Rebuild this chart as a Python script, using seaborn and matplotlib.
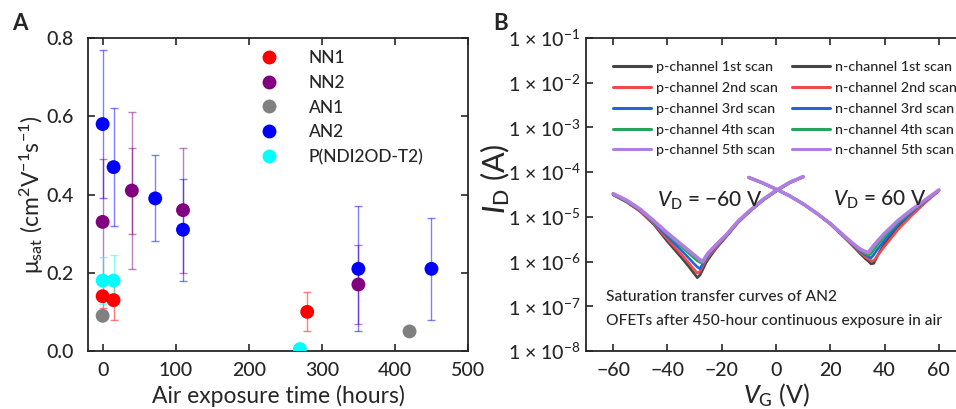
import numpy as np
import pandas as pd
import matplotlib
matplotlib.use("Agg")
import matplotlib.pyplot as plt
import seaborn as sns

# ---- panel A: mobility vs air exposure ----
materials = ["NN1", "NN2", "AN1", "AN2", "P(NDI2OD-T2)"]
mat_colors = ["#ff0000", "#800080", "#808080", "#0000ff", "#00ffff"]

nn1_t = [0, 15, 280]
nn1_mu = [0.14, 0.13, 0.10]
nn1_err = [0.03, 0.05, 0.05]

nn2_t = [0, 40, 110, 350]
nn2_mu = [0.33, 0.41, 0.36, 0.17]
nn2_err = [0.16, 0.20, 0.16, 0.10]
nn2_inner_t = [40]
nn2_inner_err = [0.11]

an1_t = [0, 420]
an1_mu = [0.09, 0.05]

an2_t = [0, 15, 72, 110, 350, 450]
an2_mu = [0.58, 0.47, 0.39, 0.31, 0.21, 0.21]
an2_err = [0.19, 0.15, 0.11, 0.13, 0.16, 0.13]

pndi_t = [0, 15, 270]
pndi_mu = [0.18, 0.18, 0.005]
pndi_err = [0.06, 0.065, 0.0]

# ---- panel B: transfer curves (log10 of I_D) ----
scan_names = ["1st", "2nd", "3rd", "4th", "5th"]
scan_colors = ["#454545", "#f24a4a", "#1f68dc", "#26a55a", "#b07ee0"]

vg_p = [-60, -55, -50, -45, -40, -35, -32, -30, -29, -28, -27, -26, -25, -22, -18, -14, -10, -5, 0, 5, 10]
logi_p = [
    [-4.51, -4.67, -4.88, -5.17, -5.55, -5.90, -6.12, -6.28, -6.36, -6.30, -6.18, -6.05, -5.95, -5.70, -5.42, -5.13, -4.90, -4.64, -4.43, -4.24, -4.11],
    [-4.50, -4.66, -4.87, -5.15, -5.50, -5.83, -6.04, -6.19, -6.26, -6.22, -6.10, -5.99, -5.90, -5.68, -5.41, -5.12, -4.89, -4.63, -4.42, -4.24, -4.11],
    [-4.49, -4.65, -4.85, -5.12, -5.44, -5.74, -5.93, -6.06, -6.12, -6.16, -6.05, -5.95, -5.86, -5.65, -5.40, -5.11, -4.89, -4.63, -4.42, -4.23, -4.10],
    [-4.49, -4.64, -4.84, -5.10, -5.39, -5.66, -5.82, -5.93, -5.98, -6.02, -6.03, -5.93, -5.83, -5.63, -5.39, -5.10, -4.88, -4.62, -4.41, -4.23, -4.10],
    [-4.48, -4.63, -4.83, -5.09, -5.36, -5.61, -5.76, -5.86, -5.91, -5.96, -6.00, -5.90, -5.81, -5.62, -5.38, -5.10, -4.88, -4.62, -4.41, -4.23, -4.10],
]

vg_n = [-10, -5, 0, 5, 10, 15, 20, 25, 28, 31, 33, 34, 35, 36, 37, 38, 40, 45, 50, 55, 60]
logi_n = [
    [-4.12, -4.24, -4.38, -4.53, -4.71, -4.92, -5.16, -5.45, -5.63, -5.82, -5.94, -5.99, -6.05, -6.04, -5.92, -5.80, -5.60, -5.22, -4.93, -4.66, -4.41],
    [-4.12, -4.24, -4.38, -4.53, -4.71, -4.92, -5.16, -5.44, -5.61, -5.79, -5.90, -5.94, -5.98, -5.98, -5.90, -5.82, -5.66, -5.28, -4.97, -4.68, -4.42],
    [-4.12, -4.24, -4.38, -4.53, -4.71, -4.92, -5.15, -5.43, -5.60, -5.76, -5.85, -5.89, -5.92, -5.85, -5.76, -5.68, -5.52, -5.17, -4.90, -4.64, -4.41],
    [-4.12, -4.24, -4.38, -4.53, -4.71, -4.92, -5.15, -5.42, -5.59, -5.74, -5.82, -5.86, -5.83, -5.74, -5.66, -5.58, -5.44, -5.12, -4.87, -4.63, -4.40],
    [-4.12, -4.24, -4.38, -4.53, -4.71, -4.92, -5.15, -5.42, -5.58, -5.72, -5.78, -5.80, -5.72, -5.64, -5.57, -5.50, -5.37, -5.08, -4.84, -4.62, -4.40],
]

ytick_exp = [-8, -7, -6, -5, -4, -3, -2, -1]

sns.set_style("ticks")
plt.rcParams["font.family"] = ["Lato", "DejaVu Sans"]
plt.rcParams["font.weight"] = "medium"
plt.rcParams["mathtext.fontset"] = "custom"
plt.rcParams["mathtext.rm"] = "Lato:medium"
plt.rcParams["mathtext.it"] = "Lato:italic:medium"
plt.rcParams["axes.unicode_minus"] = True

fig = plt.figure(figsize=(9.56, 4.09), dpi=100)
axa = fig.add_axes([88 / 956, 58 / 409, 380 / 956, 313 / 409])
axb = fig.add_axes([586 / 956, 58 / 409, 380 / 956, 313 / 409])

# errorbars first
bars = [
    (nn1_t, nn1_mu, nn1_err, mat_colors[0]),
    (nn2_t, nn2_mu, nn2_err, mat_colors[1]),
    (nn2_inner_t, [nn2_mu[1]], nn2_inner_err, mat_colors[1]),
    (an2_t, an2_mu, an2_err, mat_colors[3]),
    (pndi_t, pndi_mu, pndi_err, mat_colors[4]),
]
for t, mu, err, c in bars:
    axa.errorbar(t, mu, yerr=err, fmt="none", ecolor=c, alpha=0.5,
                 elinewidth=1, capsize=3, capthick=1, zorder=2)

df_a = pd.concat([
    pd.DataFrame({"t": nn1_t, "mu": nn1_mu, "mat": "NN1"}),
    pd.DataFrame({"t": nn2_t, "mu": nn2_mu, "mat": "NN2"}),
    pd.DataFrame({"t": an1_t, "mu": an1_mu, "mat": "AN1"}),
    pd.DataFrame({"t": an2_t, "mu": an2_mu, "mat": "AN2"}),
    pd.DataFrame({"t": pndi_t, "mu": pndi_mu, "mat": "P(NDI2OD-T2)"}),
], ignore_index=True)
sns.scatterplot(data=df_a, x="t", y="mu", hue="mat", hue_order=materials,
                palette=mat_colors, s=100, edgecolor="none", ax=axa, zorder=3)

axa.set_xlim(-20, 500)
axa.set_ylim(0, 0.8)
axa.set_xticks([0, 100, 200, 300, 400, 500])
axa.set_yticks([0.0, 0.2, 0.4, 0.6, 0.8])
axa.set_yticklabels(["0.0", "0.2", "0.4", "0.6", "0.8"])
axa.tick_params(direction="in", top=True, right=True, length=5, width=1.2,
                labelsize=14)
axa.tick_params(axis="x", pad=8)
axa.tick_params(axis="y", pad=10)
axa.set_xlabel("Air exposure time (hours)", fontsize=16.5)
axa.xaxis.set_label_coords(0.5, -0.108)
axa.set_ylabel(r"μ$_\mathrm{sat}$ (cm$^2$V$^{-1}$s$^{-1}$)", fontsize=16.5)
axa.yaxis.set_label_coords(-0.11, 0.5)
axa.legend(frameon=False, loc="upper left", bbox_to_anchor=(0.398, 1.0),
           fontsize=12.5, labelspacing=0.5, handletextpad=1.3, borderaxespad=0.3)

# ---- panel B ----
for i in range(5):
    sns.lineplot(x=vg_p, y=10 ** np.array(logi_p[i]), ax=axb, color=scan_colors[i],
                 lw=2.6 if i == 4 else 1.9, label=f"p-channel {scan_names[i]} scan",
                 sort=False, estimator=None)
for i in range(5):
    sns.lineplot(x=vg_n, y=10 ** np.array(logi_n[i]), ax=axb, color=scan_colors[i],
                 lw=2.6 if i == 4 else 1.9, label=f"n-channel {scan_names[i]} scan",
                 sort=False, estimator=None)

axb.set_yscale("log")
axb.set_xlim(-70, 70)
axb.set_ylim(1e-8, 1e-1)
axb.set_xticks([-60, -40, -20, 0, 20, 40, 60])
axb.set_yticks([10.0 ** e for e in ytick_exp])
axb.set_yticklabels([f"1 × 10$^{{−{-e}}}$" for e in ytick_exp])
axb.minorticks_off()
axb.tick_params(direction="in", top=True, right=True, length=5, width=1.2,
                labelsize=14)
axb.tick_params(axis="x", pad=8)
axb.tick_params(axis="y", pad=4)
axb.set_xlabel(r"$\mathit{V}_\mathrm{G}$ (V)", fontsize=18)
axb.xaxis.set_label_coords(0.5, -0.098)
axb.set_ylabel(r"$\mathit{I}_\mathrm{D}$ (A)", fontsize=22)
axb.yaxis.set_label_coords(-0.195, 0.55)
leg = axb.legend(frameon=False, ncol=2, loc="upper left", bbox_to_anchor=(0.055, 0.945),
                 fontsize=10.3, labelspacing=0.62, handlelength=2.7,
                 handletextpad=0.3, columnspacing=1.0, borderaxespad=0.0)
for line in leg.get_lines():
    line.set_linewidth(2.2)

axb.text(-44, 10 ** -4.64, r"$\mathit{V}_\mathrm{D}$ = −60 V", fontsize=15, va="center")
axb.text(21, 10 ** -4.62, r"$\mathit{V}_\mathrm{D}$ = 60 V", fontsize=15, va="center")
axb.text(-62.5, 10 ** -6.79, "Saturation transfer curves of AN2", fontsize=11.2, va="center")
axb.text(-62.5, 10 ** -7.33, "OFETs after 450-hour continuous exposure in air", fontsize=11.2, va="center")

for ax in (axa, axb):
    for sp in ax.spines.values():
        sp.set_linewidth(1.3)

fig.text(12 / 956, 1 - 30 / 409, "A", fontsize=16, fontweight="bold")
fig.text(493 / 956, 1 - 30 / 409, "B", fontsize=16, fontweight="bold")

fig.savefig("out.png", dpi=100)
